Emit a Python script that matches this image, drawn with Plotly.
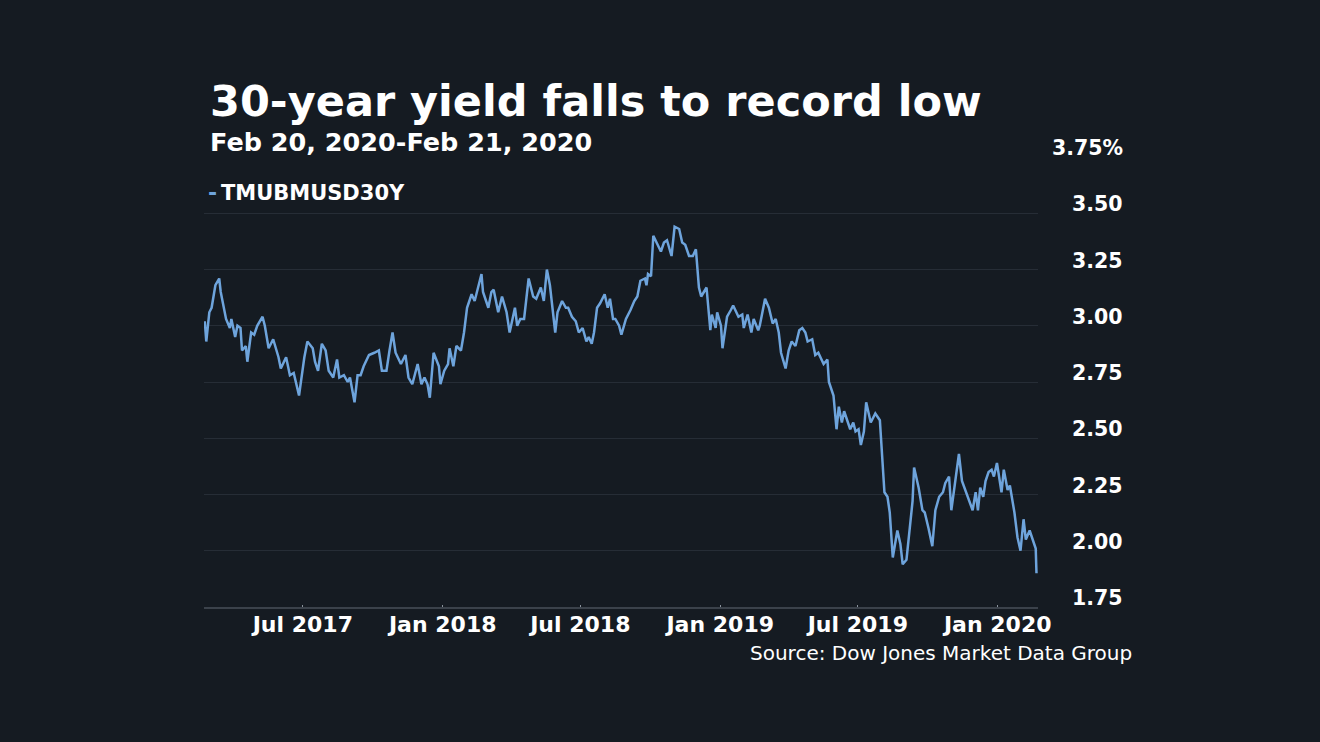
import plotly.graph_objects as go

# ---------------- data ----------------
dates = [
    "2017-02-22", "2017-02-24", "2017-02-28", "2017-03-03", "2017-03-08", "2017-03-13", "2017-03-15",
    "2017-03-22", "2017-03-27", "2017-03-29", "2017-04-03", "2017-04-06", "2017-04-10", "2017-04-12",
    "2017-04-17", "2017-04-19", "2017-04-24", "2017-04-28", "2017-05-02", "2017-05-09", "2017-05-12",
    "2017-05-17", "2017-05-23", "2017-05-30", "2017-06-02", "2017-06-09", "2017-06-14", "2017-06-19",
    "2017-06-26", "2017-07-03", "2017-07-07", "2017-07-14", "2017-07-17", "2017-07-21", "2017-07-26",
    "2017-07-31", "2017-08-04", "2017-08-10", "2017-08-15", "2017-08-18", "2017-08-24", "2017-08-29",
    "2017-09-01", "2017-09-07", "2017-09-11", "2017-09-15", "2017-09-19", "2017-09-26", "2017-10-03",
    "2017-10-09", "2017-10-13", "2017-10-19", "2017-10-23", "2017-10-27", "2017-10-31", "2017-11-07",
    "2017-11-13", "2017-11-17", "2017-11-22", "2017-11-29", "2017-12-04", "2017-12-08", "2017-12-12",
    "2017-12-15", "2017-12-20", "2017-12-27", "2017-12-29", "2018-01-03", "2018-01-08", "2018-01-10",
    "2018-01-15", "2018-01-19", "2018-01-25", "2018-01-29", "2018-02-02", "2018-02-08", "2018-02-12",
    "2018-02-16", "2018-02-21", "2018-02-23", "2018-03-02", "2018-03-06", "2018-03-09", "2018-03-15",
    "2018-03-20", "2018-03-26", "2018-03-30", "2018-04-06", "2018-04-09", "2018-04-13", "2018-04-18",
    "2018-04-24", "2018-04-30", "2018-05-04", "2018-05-10", "2018-05-14", "2018-05-18", "2018-05-22",
    "2018-05-29", "2018-06-01", "2018-06-07", "2018-06-12", "2018-06-15", "2018-06-20", "2018-06-25",
    "2018-06-29", "2018-07-04", "2018-07-09", "2018-07-12", "2018-07-16", "2018-07-19", "2018-07-23",
    "2018-07-27", "2018-08-02", "2018-08-06", "2018-08-09", "2018-08-13", "2018-08-16", "2018-08-21",
    "2018-08-24", "2018-08-30", "2018-09-05", "2018-09-10", "2018-09-14", "2018-09-18", "2018-09-24",
    "2018-09-26", "2018-09-28", "2018-10-02", "2018-10-05", "2018-10-09", "2018-10-15", "2018-10-19",
    "2018-10-23", "2018-10-29", "2018-11-02", "2018-11-08", "2018-11-12", "2018-11-16", "2018-11-21",
    "2018-11-26", "2018-11-30", "2018-12-04", "2018-12-07", "2018-12-14", "2018-12-19", "2018-12-21",
    "2018-12-26", "2018-12-28", "2019-01-02", "2019-01-04", "2019-01-10", "2019-01-15", "2019-01-18",
    "2019-01-25", "2019-01-30", "2019-02-01", "2019-02-06", "2019-02-11", "2019-02-14", "2019-02-20",
    "2019-02-22", "2019-03-01", "2019-03-06", "2019-03-11", "2019-03-15", "2019-03-19", "2019-03-22",
    "2019-03-28", "2019-04-01", "2019-04-05", "2019-04-10", "2019-04-15", "2019-04-19", "2019-04-23",
    "2019-04-26", "2019-05-02", "2019-05-06", "2019-05-10", "2019-05-17", "2019-05-22", "2019-05-24",
    "2019-05-30", "2019-06-03", "2019-06-06", "2019-06-10", "2019-06-13", "2019-06-17", "2019-06-21",
    "2019-06-25", "2019-06-28", "2019-07-02", "2019-07-05", "2019-07-09", "2019-07-12", "2019-07-18",
    "2019-07-24", "2019-07-30", "2019-08-05", "2019-08-09", "2019-08-12", "2019-08-16", "2019-08-22",
    "2019-08-26", "2019-08-29", "2019-09-03", "2019-09-06", "2019-09-11", "2019-09-13", "2019-09-19",
    "2019-09-24", "2019-09-27", "2019-10-02", "2019-10-07", "2019-10-11", "2019-10-16", "2019-10-21",
    "2019-10-24", "2019-10-29", "2019-11-01", "2019-11-07", "2019-11-11", "2019-11-15", "2019-11-20",
    "2019-11-25", "2019-11-29", "2019-12-03", "2019-12-06", "2019-12-09", "2019-12-13", "2019-12-16",
    "2019-12-20", "2019-12-24", "2019-12-27", "2019-12-31", "2020-01-06", "2020-01-09", "2020-01-14",
    "2020-01-17", "2020-01-20", "2020-01-23", "2020-01-27", "2020-01-31", "2020-02-04", "2020-02-07",
    "2020-02-12", "2020-02-18", "2020-02-20", "2020-02-21",
]

yields = [
    3.02, 2.93, 3.06, 3.08, 3.18, 3.21, 3.15,
    3.03, 2.99, 3.03, 2.95, 3.00, 2.99, 2.89,
    2.91, 2.84, 2.97, 2.96, 3.00, 3.04, 3.00,
    2.90, 2.94, 2.86, 2.81, 2.86, 2.78, 2.79,
    2.69, 2.86, 2.93, 2.90, 2.84, 2.80, 2.92,
    2.89, 2.80, 2.77, 2.85, 2.77, 2.78, 2.75,
    2.77, 2.66, 2.78, 2.78, 2.82, 2.87, 2.88,
    2.89, 2.80, 2.80, 2.89, 2.97, 2.88, 2.83,
    2.87, 2.77, 2.74, 2.83, 2.74, 2.77, 2.74,
    2.68, 2.88, 2.82, 2.74, 2.80, 2.83, 2.90,
    2.82, 2.91, 2.89, 2.97, 3.08, 3.14, 3.11,
    3.17, 3.23, 3.15, 3.08, 3.15, 3.16, 3.06,
    3.13, 3.06, 2.97, 3.08, 3.00, 3.03, 3.03,
    3.21, 3.13, 3.12, 3.17, 3.11, 3.25, 3.18,
    2.97, 3.06, 3.11, 3.08, 3.08, 3.04, 3.02,
    2.97, 2.99, 2.93, 2.95, 2.92, 2.97, 3.08,
    3.10, 3.14, 3.08, 3.12, 3.03, 3.03, 3.00,
    2.96, 3.03, 3.07, 3.11, 3.13, 3.20, 3.21,
    3.18, 3.23, 3.22, 3.40, 3.37, 3.33, 3.37,
    3.38, 3.31, 3.44, 3.43, 3.37, 3.36, 3.31,
    3.31, 3.34, 3.17, 3.13, 3.17, 2.98, 3.05,
    2.99, 3.06, 3.00, 2.90, 3.04, 3.07, 3.09,
    3.04, 3.05, 2.99, 3.05, 2.97, 3.03, 2.98,
    3.00, 3.12, 3.08, 3.01, 3.03, 2.97, 2.88,
    2.81, 2.89, 2.93, 2.91, 2.98, 2.99, 2.97,
    2.93, 2.94, 2.87, 2.88, 2.83, 2.85, 2.75,
    2.69, 2.54, 2.64, 2.57, 2.62, 2.58, 2.54,
    2.57, 2.53, 2.54, 2.47, 2.53, 2.66, 2.57,
    2.61, 2.58, 2.26, 2.24, 2.17, 1.97, 2.09,
    2.03, 1.94, 1.96, 2.05, 2.22, 2.37, 2.28,
    2.18, 2.17, 2.10, 2.02, 2.18, 2.24, 2.26,
    2.30, 2.33, 2.18, 2.33, 2.43, 2.31, 2.26,
    2.21, 2.18, 2.26, 2.18, 2.28, 2.24, 2.31,
    2.35, 2.36, 2.33, 2.39, 2.26, 2.36, 2.27,
    2.29, 2.23, 2.17, 2.06, 2.00, 2.14, 2.05,
    2.09, 2.03, 2.01, 1.90,
]

y_ticks = [1.75, 2.00, 2.25, 2.50, 2.75, 3.00, 3.25, 3.50, 3.75]
y_tick_text = ["1.75", "2.00", "2.25", "2.50", "2.75", "3.00", "3.25", "3.50", "3.75%"]
x_ticks = ["2017-07-01", "2018-01-01", "2018-07-01", "2019-01-01", "2019-07-01", "2020-01-01"]
x_tick_text = ["Jul 2017", "Jan 2018", "Jul 2018", "Jan 2019", "Jul 2019", "Jan 2020"]
x_range = ["2017-02-21", "2020-02-23"]
y_range = [1.75, 3.75]

series_name = "TMUBMUSD30Y"
title_text = "30-year yield falls to record low"
subtitle_text = "Feb 20, 2020-Feb 21, 2020"
source_text = "Source: Dow Jones Market Data Group"

# ---------------- style ----------------
BG = "#151b22"
LINE = "#6ea4dc"
GRID = "#262d36"
AXIS = "#3b424b"
TXT = "#ffffff"
FONT = "DejaVu Sans"

W, H = 1320, 742
L, R, T, B = 204, 282, 157, 135
PW, PH = W - L - R, H - T - B


def px(xp):
    return (xp - L) / PW


def py(yp):
    return 1 - (yp - T) / PH


fig = go.Figure()
fig.add_trace(go.Scatter(
    x=dates, y=yields, mode="lines", name=series_name,
    line=dict(color=LINE, width=2.5), showlegend=False,
))

annotations = []
annotations.append(dict(text=f"<b>{title_text}</b>", xref="paper", yref="paper",
                        x=px(208), y=py(101), xanchor="left", yanchor="middle",
                        showarrow=False, font=dict(family=FONT, size=43, color=TXT)))
annotations.append(dict(text=f"<b>{subtitle_text}</b>", xref="paper", yref="paper",
                        x=px(208), y=py(142), xanchor="left", yanchor="middle",
                        showarrow=False, font=dict(family=FONT, size=25.5, color=TXT)))
# legend: blue dash + series name
annotations.append(dict(text="<b>-</b>", xref="paper", yref="paper",
                        x=px(206), y=py(193), xanchor="left", yanchor="middle",
                        showarrow=False, font=dict(family=FONT, size=22, color=LINE)))
annotations.append(dict(text=f"<b>{series_name}</b>",
                        xref="paper", yref="paper",
                        x=px(219), y=py(193), xanchor="left", yanchor="middle",
                        showarrow=False, font=dict(family=FONT, size=21, color=TXT)))
annotations.append(dict(text=source_text, xref="paper", yref="paper",
                        x=px(1134), y=py(653), xanchor="right", yanchor="middle",
                        showarrow=False, font=dict(family=FONT, size=20, color=TXT)))
for v, t in zip(y_ticks, y_tick_text):
    annotations.append(dict(text=f"<b>{t}</b>", xref="paper", yref="y",
                            x=px(1125), y=v, xanchor="right", yanchor="middle",
                            yshift=9, showarrow=False,
                            font=dict(family=FONT, size=20.5, color=TXT)))

fig.update_layout(
    width=W, height=H,
    paper_bgcolor=BG, plot_bgcolor=BG,
    margin=dict(l=L, r=R, t=T, b=B, pad=0),
    annotations=annotations,
    showlegend=False,
    xaxis=dict(
        type="date", range=x_range,
        tickvals=x_ticks, ticktext=[f"<b>{t}</b>" for t in x_tick_text],
        tickfont=dict(family=FONT, size=22, color=TXT),
        showgrid=False, zeroline=False,
        showline=True, linecolor=AXIS, linewidth=2,
        ticks="inside", ticklen=2, tickcolor="#8a929c", tickwidth=1,
        ticklabelstandoff=-3,
    ),
    yaxis=dict(
        range=y_range, tickvals=y_ticks, showticklabels=False,
        showgrid=True, gridcolor=GRID, gridwidth=1,
        zeroline=False, showline=False, ticks="",
    ),
)

fig.write_html(
    "out.html",
    config={"displayModeBar": False},
    post_script=f"document.body.style.margin='0';document.body.style.background='{BG}';",
)
